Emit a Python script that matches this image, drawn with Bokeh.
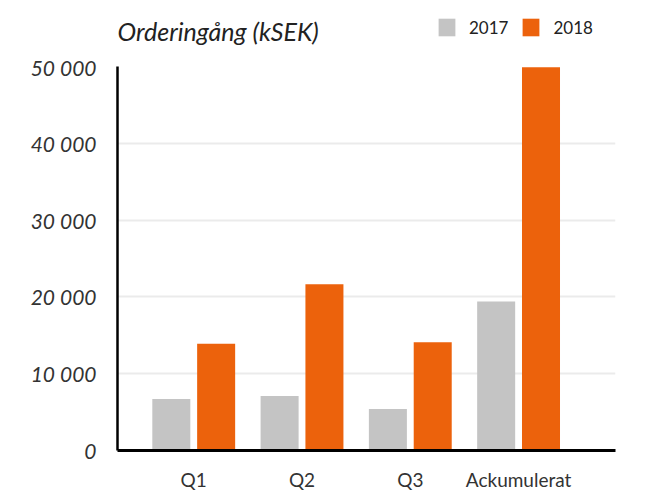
from bokeh.plotting import figure
from bokeh.models import ColumnDataSource, Range1d, FixedTicker, Legend, LegendItem, Label
from bokeh.layouts import column
from bokeh.transform import dodge
from bokeh.embed import file_html
from bokeh.resources import INLINE

categories = ["Q1", "Q2", "Q3", "Ackumulerat"]
values_2017 = [6700, 7100, 5400, 19400]
values_2018 = [13900, 21650, 14100, 49900]
y_ticks = [0, 10000, 20000, 30000, 40000, 50000]
y_tick_labels = ["0", "10 000", "20 000", "30 000", "40 000", "50 000"]
title_text = "Orderingång (kSEK)"
series_names = ["2017", "2018"]

FONT = "Lato"
GRAY = "#c4c4c4"
ORANGE = "#ec620c"
W = 651
HEAD_H = 54
MAIN_H = 439
LEFT = 117
RIGHT = 36

# ---- header: title + legend ----
head = figure(width=W, height=HEAD_H, output_backend="svg", toolbar_location=None,
              x_range=Range1d(0, 1), y_range=Range1d(0, 1),
              x_axis_location=None, y_axis_location=None,
              min_border_left=LEFT, min_border_right=RIGHT, min_border_top=0, min_border_bottom=0)
head.outline_line_color = None
head.xgrid.grid_line_color = None
head.ygrid.grid_line_color = None
head.add_layout(Label(x=0, y=24, x_units="screen", y_units="screen", text=title_text,
                      text_font=FONT, text_font_style="italic", text_font_size="25px",
                      text_color="#222222", text_baseline="middle", text_align="left"))
# zero-height legend proxies (legend swatches only)
legend_src = ColumnDataSource(dict(x=[0, 0], top=[0, 0]))
h17 = head.vbar(x="x", top="top", width=0, source=legend_src, fill_color=GRAY, line_color=None)
h18 = head.vbar(x="x", top="top", width=0, source=legend_src, fill_color=ORANGE, line_color=None)
legend = Legend(items=[LegendItem(label=series_names[0], renderers=[h17], index=0),
                       LegendItem(label=series_names[1], renderers=[h18], index=0)],
                location=(319, 16), orientation="horizontal",
                glyph_width=21, glyph_height=22, label_standoff=12, spacing=12,
                padding=0, margin=0, border_line_color=None, background_fill_alpha=0,
                label_text_font=FONT, label_text_font_size="17px", label_text_color="#222222",
                label_height=22)
head.add_layout(legend, "center")

# ---- main chart ----
src = ColumnDataSource(dict(x=list(range(len(categories))), v17=values_2017, v18=values_2018))

p = figure(width=W, height=MAIN_H, output_backend="svg", toolbar_location=None,
           x_range=Range1d(-0.704, 3.895), y_range=Range1d(0, 50000),
           min_border_left=LEFT, min_border_right=RIGHT, min_border_top=12, min_border_bottom=42)
p.outline_line_color = None

p.vbar(x=dodge("x", -0.207, range=p.x_range), top="v17", width=0.351, source=src,
       fill_color=GRAY, line_color=None)
p.vbar(x=dodge("x", 0.207, range=p.x_range), top="v18", width=0.351, source=src,
       fill_color=ORANGE, line_color=None)

p.xaxis.ticker = FixedTicker(ticks=list(range(len(categories))))
p.xaxis.major_label_overrides = {i: c for i, c in enumerate(categories)}
p.xaxis.axis_line_color = "black"
p.xaxis.axis_line_width = 3
p.xaxis.major_tick_line_color = None
p.xaxis.minor_tick_line_color = None
p.xaxis.major_label_text_font = FONT
p.xaxis.major_label_text_font_size = "19px"
p.xaxis.major_label_text_color = "#333333"
p.xaxis.major_label_standoff = 11

p.yaxis.ticker = FixedTicker(ticks=y_ticks)
p.yaxis.major_label_overrides = {t: l for t, l in zip(y_ticks, y_tick_labels)}
p.yaxis.axis_line_color = "black"
p.yaxis.axis_line_width = 2.5
p.yaxis.major_tick_line_color = None
p.yaxis.minor_tick_line_color = None
p.yaxis.major_label_text_font = FONT
p.yaxis.major_label_text_font_style = "italic"
p.yaxis.major_label_text_font_size = "21px"
p.yaxis.major_label_text_color = "#333333"
p.yaxis.major_label_standoff = 15

p.xgrid.grid_line_color = None
p.ygrid.grid_line_color = "#ebebeb"
p.ygrid.grid_line_width = 2

layout = column(head, p, spacing=0)
open("out.html", "w").write(file_html(layout, INLINE))
